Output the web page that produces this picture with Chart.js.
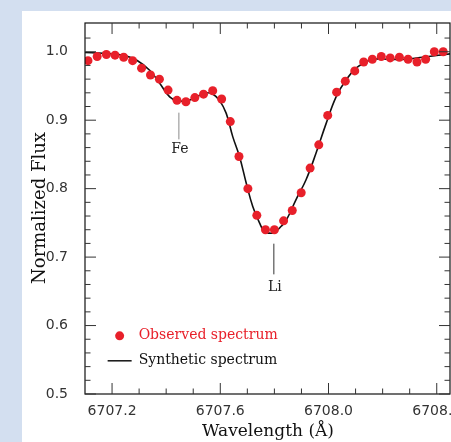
<!DOCTYPE html>
<html>
<head>
<meta charset="utf-8">
<script src="https://cdn.jsdelivr.net/npm/chart.js@4.4.1/dist/chart.umd.min.js"></script>
<style>
  html, body { margin: 0; padding: 0; width: 451px; height: 442px; overflow: hidden; background: #d3dff0; }
  #panel { position: absolute; left: 22px; top: 11px; width: 429px; height: 431px; background: #fff; }
  #wrap { position: absolute; left: 0; top: 0; width: 470px; height: 442px; }
</style>
</head>
<body>
<div id="panel"></div>
<div id="wrap"><canvas id="grafico"></canvas></div>
<script>
// datos observados (longitud de onda en A, flujo normalizado)
const obsWave = [6707.111, 6707.145, 6707.179, 6707.211, 6707.243, 6707.276, 6707.309, 6707.342, 6707.375, 6707.407,
  6707.440, 6707.473, 6707.506, 6707.538, 6707.572, 6707.605, 6707.637, 6707.669, 6707.702, 6707.735,
  6707.767, 6707.800, 6707.834, 6707.866, 6707.899, 6707.932, 6707.964, 6707.997, 6708.030, 6708.062,
  6708.097, 6708.130, 6708.162, 6708.195, 6708.228, 6708.262, 6708.294, 6708.327, 6708.359, 6708.391, 6708.424];
const obsFlux = [0.987, 0.993, 0.996, 0.995, 0.992, 0.987, 0.976, 0.966, 0.960, 0.944,
  0.929, 0.927, 0.933, 0.938, 0.943, 0.931, 0.898, 0.847, 0.800, 0.761,
  0.740, 0.740, 0.753, 0.768, 0.794, 0.830, 0.864, 0.907, 0.941, 0.957,
  0.972, 0.985, 0.989, 0.993, 0.991, 0.992, 0.989, 0.985, 0.989, 1.000, 1.000];

// espectro sintetico
const synWave = [6707.100, 6707.150, 6707.200, 6707.250, 6707.290, 6707.339, 6707.376, 6707.413, 6707.438, 6707.475,
  6707.511, 6707.548, 6707.573, 6707.597, 6707.622, 6707.646, 6707.671, 6707.696, 6707.720, 6707.745,
  6707.763, 6707.782, 6707.800, 6707.825, 6707.844, 6707.880, 6707.917, 6707.954, 6707.991, 6708.028,
  6708.065, 6708.102, 6708.129, 6708.163, 6708.225, 6708.286, 6708.348, 6708.450];
const synFlux = [0.999, 0.998, 0.997, 0.994, 0.988, 0.973, 0.954, 0.934, 0.929, 0.928,
  0.934, 0.940, 0.938, 0.929, 0.910, 0.876, 0.847, 0.808, 0.774, 0.750,
  0.737, 0.735, 0.736, 0.745, 0.754, 0.784, 0.813, 0.852, 0.895, 0.934,
  0.959, 0.976, 0.983, 0.989, 0.989, 0.989, 0.992, 0.997];

// ejes
const xMajor = [6707.2, 6707.6, 6708.0, 6708.4];
const xMinor = [6707.3, 6707.4, 6707.5, 6707.7, 6707.8, 6707.9, 6708.1, 6708.2, 6708.3];
const yMajor = [0.5, 0.6, 0.7, 0.8, 0.9, 1.0];
const yMinor = [0.52, 0.54, 0.56, 0.58, 0.62, 0.64, 0.66, 0.68, 0.72, 0.74, 0.76, 0.78,
  0.82, 0.84, 0.86, 0.88, 0.92, 0.94, 0.96, 0.98, 1.02];

// lineas de identificacion
const lineas = [
  { nombre: 'Fe', wave: 6707.447, y1: 0.911, y2: 0.872, yText: 0.8575, color: '#8a8a8a' },
  { nombre: 'Li', wave: 6707.798, y1: 0.7196, y2: 0.6748, yText: 0.656, color: '#333' }
];

const rojo = '#e8202a';
const serif = '"DejaVu Serif", serif';

const marco = {
  id: 'marco',
  afterDatasetsDraw(chart) {
    const { ctx, chartArea: a, scales: { x, y } } = chart;
    ctx.save();
    ctx.strokeStyle = '#111';
    ctx.lineWidth = 1.2;
    ctx.strokeRect(a.left, a.top, a.right - a.left, a.bottom - a.top);

    const tick = (x1, y1, x2, y2) => { ctx.beginPath(); ctx.moveTo(x1, y1); ctx.lineTo(x2, y2); ctx.stroke(); };
    ctx.strokeStyle = '#333';
    ctx.lineWidth = 1;
    xMajor.forEach(v => { const p = x.getPixelForValue(v); tick(p, a.bottom, p, a.bottom - 11); tick(p, a.top, p, a.top + 11); });
    xMinor.forEach(v => { const p = x.getPixelForValue(v); tick(p, a.bottom, p, a.bottom - 5.5); tick(p, a.top, p, a.top + 5.5); });
    yMajor.forEach(v => { const p = y.getPixelForValue(v); tick(a.left, p, a.left + 11, p); tick(a.right, p, a.right - 11, p); });
    yMinor.forEach(v => { const p = y.getPixelForValue(v); tick(a.left, p, a.left + 5.5, p); tick(a.right, p, a.right - 5.5, p); });

    // Fe y Li
    ctx.font = '14px ' + serif;
    ctx.textAlign = 'center';
    ctx.textBaseline = 'middle';
    lineas.forEach(l => {
      const px = x.getPixelForValue(l.wave);
      ctx.strokeStyle = l.color;
      tick(px, y.getPixelForValue(l.y1), px, y.getPixelForValue(l.y2));
      ctx.fillStyle = '#222';
      ctx.fillText(l.nombre, px + 1, y.getPixelForValue(l.yText));
    });

    // leyenda
    const lx = x.getPixelForValue(6707.228), ly1 = y.getPixelForValue(0.585), ly2 = y.getPixelForValue(0.5485);
    ctx.fillStyle = rojo;
    ctx.beginPath(); ctx.arc(lx, ly1, 4.5, 0, Math.PI * 2); ctx.fill();
    ctx.textAlign = 'left';
    ctx.fillText('Observed spectrum', lx + 19, ly1);
    ctx.strokeStyle = '#111';
    ctx.lineWidth = 1.5;
    tick(lx - 12, ly2, lx + 12, ly2);
    ctx.fillStyle = '#111';
    ctx.fillText('Synthetic spectrum', lx + 19, ly2);

    // titulos
    ctx.textAlign = 'center';
    ctx.font = '17px ' + serif;
    ctx.fillText('Wavelength (\u00c5)', 268, 432);
    ctx.save();
    ctx.translate(40, 208);
    ctx.rotate(-Math.PI / 2);
    ctx.font = '18px ' + serif;
    ctx.fillText('Normalized Flux', 0, 0);
    ctx.restore();
    ctx.restore();
  }
};

const ctx = document.getElementById('grafico').getContext('2d');
new Chart(ctx, {
  type: 'scatter',
  data: {
    datasets: [{
      label: 'Observed spectrum',
      data: obsWave.map((w, i) => ({ x: w, y: obsFlux[i] })),
      backgroundColor: rojo,
      borderWidth: 0,
      pointRadius: 4.5
    }, {
      label: 'Synthetic spectrum',
      type: 'line',
      data: synWave.map((w, i) => ({ x: w, y: synFlux[i] })),
      borderColor: '#111',
      borderWidth: 1.6,
      pointRadius: 0,
      tension: 0.4,
      fill: false
    }]
  },
  options: {
    responsive: true,
    maintainAspectRatio: false,
    animation: false,
    layout: { padding: { top: 23, right: 20, left: 0, bottom: 0 } },
    plugins: { legend: { display: false }, tooltip: { enabled: false } },
    scales: {
      x: {
        type: 'linear',
        min: 6707.1,
        max: 6708.449,
        afterFit: s => { s.height = 48; },
        afterBuildTicks: s => { s.ticks = xMajor.map(v => ({ value: v })); },
        grid: { display: false },
        border: { display: false },
        ticks: {
          padding: 1,
          color: '#333',
          font: { family: '"DejaVu Sans"', size: 14 },
          callback: v => v.toFixed(1)
        }
      },
      y: {
        min: 0.5,
        max: 1.042,
        afterFit: s => { s.width = 85; },
        afterBuildTicks: s => { s.ticks = yMajor.map(v => ({ value: v })); },
        grid: { display: false },
        border: { display: false },
        ticks: {
          padding: 9,
          color: '#333',
          font: { family: '"DejaVu Sans"', size: 14 },
          callback: v => v.toFixed(1)
        }
      }
    }
  },
  plugins: [marco]
});
</script>
</body>
</html>
